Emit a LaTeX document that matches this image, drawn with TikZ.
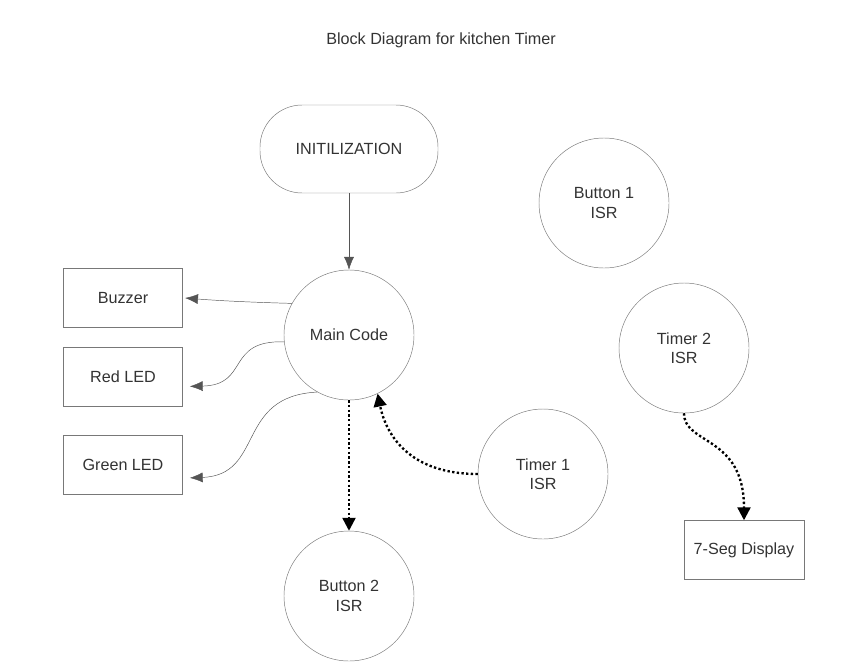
\documentclass[tikz,border=0pt]{standalone}
\usepackage{fontspec}
\setmainfont{Liberation Sans}
\usetikzlibrary{arrows.meta}

\definecolor{linegray}{RGB}{120,120,120}
\definecolor{arrowgray}{RGB}{85,85,85}
\definecolor{textgray}{RGB}{51,51,51}

\tikzset{
    txt/.style={font=\fontsize{13.8}{16.5}\selectfont, text=textgray, align=center},
    isr/.style={txt, circle, draw=linegray, minimum size=3.9cm, inner sep=0pt},
    box/.style={txt, rectangle, draw=linegray, minimum width=3.57cm, minimum height=1.77cm},
    graylink/.style={arrowgray, -{Latex[length=11pt,width=8.5pt]}},
    dotlink/.style={black, line width=2pt, dotted, -{Triangle[length=11pt,width=11pt]}}
}

\begin{document}
\begin{tikzpicture}[x=0.03cm, y=-0.03cm]
            \useasboundingbox (0,0) rectangle (847,669);

            \node[txt] (title) at (441, 40) {Block Diagram for kitchen Timer};

            \node[txt, draw=linegray, rounded corners=36pt, minimum width=5.34cm, minimum height=2.64cm] (init) at (349, 149) {INITILIZATION};

            \node[isr] (main)  at (349, 335) {Main Code};
            \node[isr] (btn1)  at (604, 203) {Button 1\\ISR};
            \node[isr] (tmr2)  at (684, 348) {Timer 2\\ISR};
            \node[isr] (tmr1)  at (543, 474) {Timer 1\\ISR};
            \node[isr] (btn2)  at (349, 596) {Button 2\\ISR};

            \node[box] (buzzer) at (123, 298) {Buzzer};
            \node[box] (redled) at (123, 377) {Red LED};
            \node[box] (grnled) at (123, 465) {Green LED};
            \node[box, minimum width=3.6cm] (sevseg) at (744, 550) {7-Seg Display};

            \draw[graylink] (init) -- (main);
            \draw[graylink] (main.151) .. controls (240, 302) and (210, 300) .. ([xshift=2pt]buzzer.east);
            \draw[graylink] (main.186) .. controls (225, 340) and (250, 385) .. ([xshift=6pt, yshift=-8pt]redled.east);
            \draw[graylink] (main.241) .. controls (235, 396) and (265, 475) .. ([xshift=6pt, yshift=-11pt]grnled.east);

            \draw[dotlink] (main) -- (btn2);
            \draw[dotlink] (tmr1.west) .. controls (405, 474) and (385, 430) .. (main.-64);
            \draw[dotlink] (tmr2.south) .. controls (684, 445) and (744, 435) .. (sevseg.north);
        \end{tikzpicture}
\end{document}
